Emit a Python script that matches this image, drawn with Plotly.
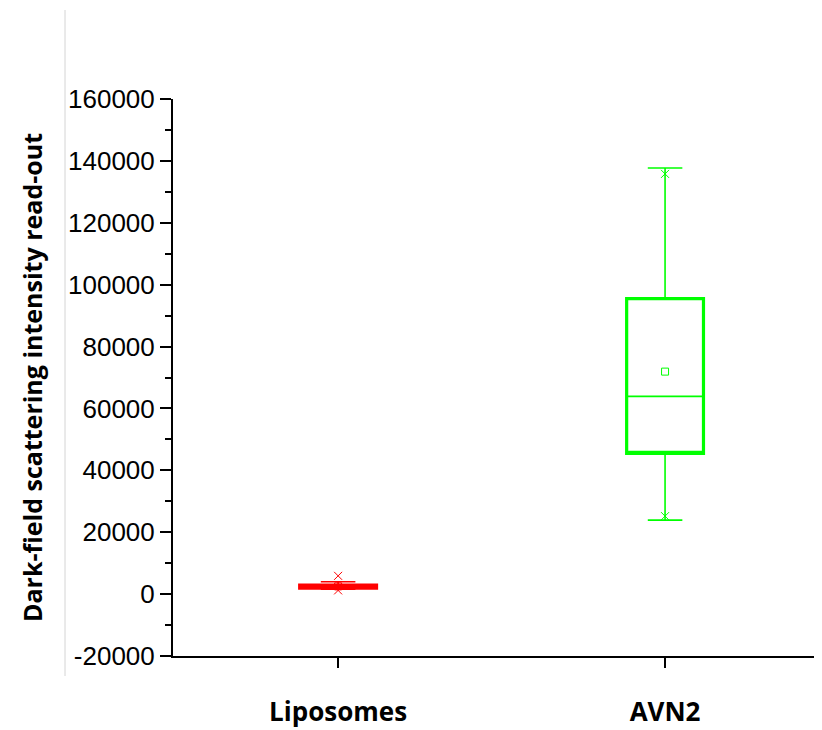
import plotly.graph_objects as go

# ---- data ----
categories = ["Liposomes", "AVN2"]
colors = ["#FF0000", "#00FF00"]
q1_vals = [1900, 45500]
median_vals = [2500, 63900]
q3_vals = [2900, 95500]
lower_whisker = [1600, 23900]
upper_whisker = [4000, 137700]
mean_vals = [2500, 71900]
min_vals = [1200, 25200]
max_vals = [5900, 135800]

ytick_vals = [-20000, 0, 20000, 40000, 60000, 80000, 100000, 120000, 140000, 160000]
ytick_labels = ["-20000", "0", "20000", "40000", "60000", "80000",
                "100000", "120000", "140000", "160000"]

# page body has an 8px default margin; compensate so the plot lands where the reference has it
OFF = 8
W, H = 822 - OFF, 730 - OFF
L, R, T, B = 173 - OFF, 0, 99 - OFF, 74
plot_w = W - L - R
plot_h = H - T - B

fig = go.Figure()

for i, cat in enumerate(categories):
    c = colors[i]
    # thin whiskers + median
    fig.add_trace(go.Box(
        x=[cat], q1=[q1_vals[i]], median=[median_vals[i]], q3=[q3_vals[i]],
        lowerfence=[lower_whisker[i]], upperfence=[upper_whisker[i]],
        line=dict(color=c, width=1.6), fillcolor="rgba(0,0,0,0)",
        whiskerwidth=0.45, width=0.235, boxpoints=False,
        showlegend=False, hoverinfo="skip",
    ))
    # thick box outline
    fig.add_trace(go.Box(
        x=[cat], q1=[q1_vals[i]], median=[q1_vals[i]], q3=[q3_vals[i]],
        lowerfence=[q1_vals[i]], upperfence=[q3_vals[i]],
        line=dict(color=c, width=3.2), fillcolor="rgba(0,0,0,0)",
        whiskerwidth=0, width=0.235, boxpoints=False,
        showlegend=False, hoverinfo="skip",
    ))
    # min / max markers
    fig.add_trace(go.Scatter(
        x=[cat, cat], y=[min_vals[i], max_vals[i]], mode="markers",
        marker=dict(symbol="x-thin", size=8, line=dict(color=c, width=1)),
        showlegend=False, hoverinfo="skip",
    ))
    # mean marker
    fig.add_trace(go.Scatter(
        x=[cat], y=[mean_vals[i]], mode="markers",
        marker=dict(symbol="square-open", size=7, color=c, line=dict(width=1)),
        showlegend=False, hoverinfo="skip",
    ))

fig.update_layout(
    width=W, height=H,
    margin=dict(l=L, r=R, t=T, b=B, pad=0),
    paper_bgcolor="white", plot_bgcolor="white",
    boxmode="overlay",
    showlegend=False,
    xaxis=dict(
        type="category", range=[-0.505, 1.48],
        showline=True, linecolor="black", linewidth=2,
        ticks="outside", ticklen=10, tickwidth=2, tickcolor="black",
        showgrid=False, zeroline=False,
        tickfont=dict(family="Open Sans", size=26, color="black", weight="bold"),
        ticklabelstandoff=22,
    ),
    yaxis=dict(
        range=[-20000, 160000],
        tickvals=ytick_vals, ticktext=ytick_labels,
        showline=True, linecolor="black", linewidth=2,
        ticks="outside", ticklen=11, tickwidth=2, tickcolor="black",
        minor=dict(dtick=10000, tick0=0, ticks="outside", ticklen=6,
                   tickwidth=2, tickcolor="black", showgrid=False),
        showgrid=False, zeroline=False,
        tickfont=dict(family="Liberation Sans", size=26, color="black"),
        title=dict(text="Dark-field scattering intensity read-out",
                   font=dict(family="Open Sans", size=25, color="black", weight="bold"),
                   standoff=18),
    ),
    shapes=[dict(
        type="line", xref="paper", yref="paper",
        x0=(65 - OFF - L) / plot_w, x1=(65 - OFF - L) / plot_w,
        y0=(T + plot_h - (676 - OFF)) / plot_h,
        y1=(T + plot_h - (10 - OFF)) / plot_h,
        line=dict(color="#d4d4d4", width=1),
    )],
)

fig.write_html("out.html")
